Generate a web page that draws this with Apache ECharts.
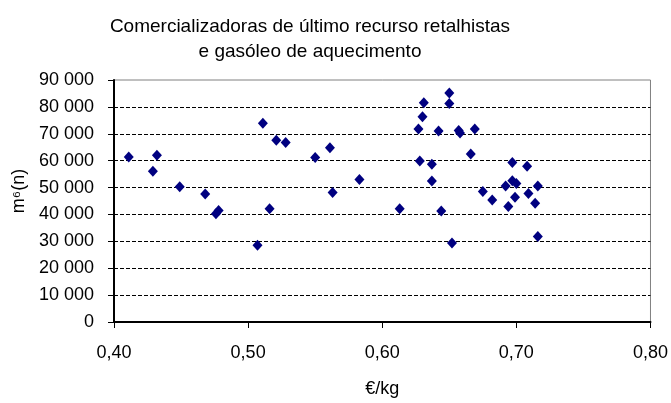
<!DOCTYPE html>
<html>
<head>
<meta charset="utf-8">
<script src="https://cdn.jsdelivr.net/npm/echarts@6/dist/echarts.min.js"></script>
<style>html,body{margin:0;padding:0;background:#fff}#c{width:671px;height:403px}</style>
</head>
<body>
<div id="c"></div>
<script>
var titleText = "Comercializadoras de último recurso retalhistas\ne gasóleo de aquecimento";
var xName = "€/kg";
var yName = "m⁶(n)";
var xTicks = [0.40, 0.50, 0.60, 0.70, 0.80];
var yTicks = [0, 10000, 20000, 30000, 40000, 50000, 60000, 70000, 80000, 90000];
var priceValues = [0.411,0.429,0.432,0.449,0.468,0.476,0.478,0.507,0.511,0.516,0.521,0.528,0.550,0.561,0.563,0.583,0.613,0.627,0.628,0.630,0.631,0.637,0.637,0.642,0.644,0.650,0.650,0.652,0.657,0.658,0.666,0.669,0.675,0.682,0.692,0.694,0.697,0.697,0.700,0.699,0.708,0.709,0.714,0.716,0.716];
var volumeValues = [61400,56100,62000,50300,47600,40300,41500,28500,73900,42100,67600,66800,61200,64800,48200,53000,42100,71800,59900,76300,81500,58700,52400,71000,41300,85200,81300,29400,71200,70300,62500,71800,48500,45400,50600,43000,59300,52500,51500,46400,57900,47800,44200,50600,31800];

var pts = priceValues.map(function(x, i){ return [x, volumeValues[i]]; });
var FF = '"Liberation Sans", Arial, sans-serif';
var chart = echarts.init(document.getElementById('c'), null, {renderer:'canvas'});
chart.setOption({
  animation: false,
  backgroundColor: '#fff',
  title: {
    text: titleText, left: 305, top: 9, textAlign: 'center',
    textStyle: {fontFamily: FF, fontSize: 19, fontWeight: 'normal', color: '#000', lineHeight: 25}
  },
  grid: {left: 114, right: 20, top: 80, bottom: 75.5, show: true, borderColor: '#808080', borderWidth: 1, backgroundColor: 'transparent'},
  xAxis: {
    type: 'value', min: xTicks[0], max: xTicks[xTicks.length-1], interval: 0.1,
    name: xName, nameLocation: 'middle', nameGap: 58,
    nameTextStyle: {fontFamily: FF, fontSize: 18, color: '#000'},
    axisLine: {show: true, onZero: false, lineStyle: {color: '#000', width: 2}},
    axisTick: {show: true, inside: false, length: 6, lineStyle: {color: '#000', width: 1}},
    axisLabel: {margin: 22, fontFamily: FF, fontSize: 18, color: '#000', formatter: function(v){ return v.toFixed(2).replace('.', ','); }},
    splitLine: {show: false}
  },
  yAxis: {
    type: 'value', min: yTicks[0], max: yTicks[yTicks.length-1], interval: 10000,
    name: yName, nameLocation: 'middle', nameGap: 84, nameRotate: 90,
    nameTextStyle: {fontFamily: FF, fontSize: 18, color: '#000', padding: [0, 0, 0, 20]},
    axisLine: {show: true, lineStyle: {color: '#000', width: 2}},
    axisTick: {show: true, inside: false, length: 6, lineStyle: {color: '#000', width: 1}},
    axisLabel: {margin: 20, fontFamily: FF, fontSize: 18, color: '#000', formatter: function(v){ return String(v).replace(/\B(?=(\d{3})+(?!\d))/g, ' '); }},
    splitLine: {show: true, showMinLine: false, showMaxLine: false, lineStyle: {color: '#000', width: 1, type: [4, 2]}}
  },
  series: [{
    type: 'scatter', data: pts, symbol: 'diamond', symbolSize: [10, 11],
    itemStyle: {color: '#000080', opacity: 1}
  }]
});
</script>
</body>
</html>
